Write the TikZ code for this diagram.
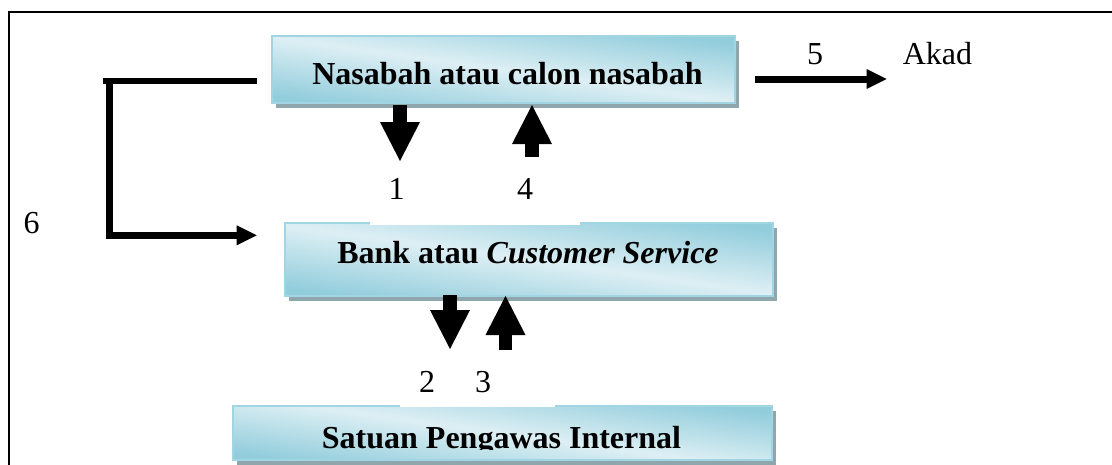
\documentclass[tikz,border=0pt]{standalone}
\usepackage{fontspec}
\setmainfont{Liberation Serif}
\usetikzlibrary{arrows.meta,shadows}
\definecolor{aquaD}{RGB}{146,205,220}
\definecolor{aquaL}{RGB}{221,239,244}
\definecolor{aquaB}{RGB}{162,213,227}
\definecolor{shadowc}{RGB}{143,166,173}
\begin{document}
\begin{tikzpicture}[x=1pt,y=-1pt,
  box/.style={draw=aquaB, line width=1.2pt, top color=aquaD, bottom color=aquaD,
    middle color=aquaL, shading angle=-8,
    drop shadow={shadow xshift=4pt, shadow yshift=-5pt, fill=shadowc, opacity=1},
    inner sep=0pt},
  boxtext/.style={font=\fontsize{32}{38}\selectfont\bfseries, anchor=base, inner sep=0pt},
  lbl/.style={font=\fontsize{32}{38}\selectfont, anchor=base, inner sep=0pt},
  blockarr/.style={line width=#1, -{Triangle[width=40pt,length=39pt,line width=0pt]}},
  linearr/.style={line width=#1, -{Triangle[width=20pt,length=20pt,line width=0pt]}},
  whitepad/.style={fill=white, draw=none, inner sep=0pt}
]
\useasboundingbox (0,0) rectangle (1112,464);
\clip (0,0) rectangle (1112,464);
% frame (only its top and left sides are in view)
\draw[line width=2.2pt] (8.7,480) -- (8.7,12) -- (1130,12);

% boxes
\node[box, minimum width=463pt, minimum height=67pt] (b1) at (503.5,69.5) {};
\node[box, minimum width=488pt, minimum height=73pt] (b2) at (529,259.5) {};
\node[box, minimum width=539pt, minimum height=54pt] (b3) at (502.5,433) {};

\node[boxtext] (t1) at (507.5,84) {Nasabah atau calon nasabah};
\node[boxtext] (t2) at (528,263) {Bank atau \textit{Customer Service}};
\begin{scope}
  \clip (b3.north west) rectangle (b3.east |- 0,449);
  \node[boxtext] (t3) at (501.5,448) {Satuan Pengawas Internal};
\end{scope}

% white label pads overlapping the box tops
\node[whitepad, minimum width=210pt, minimum height=58pt] (p1) at (475,195.5) {};
\node[whitepad, minimum width=155pt, minimum height=50pt] (p2) at (477.5,382) {};

% numbers
\node[lbl] (l1) at (396.7,199) {1};
\node[lbl] (l4) at (525,199) {4};
\node[lbl] (l2) at (427,392.5) {2};
\node[lbl] (l3) at (483,392.5) {3};
\node[lbl] (l6) at (31.7,233.5) {6};
\node[lbl] (l5) at (815,64) {5};
\node[lbl] (akad) at (937.5,64) {Akad};

% block arrows
\coordinate (a1s) at (400,105);   \coordinate (a1e) at (400,161);
\coordinate (a4s) at (532,157);   \coordinate (a4e) at (532,105);
\coordinate (a2s) at (450,295);   \coordinate (a2e) at (450,349);
\coordinate (a3s) at (505.5,350); \coordinate (a3e) at (505.5,296);
\draw[blockarr=14pt] (a1s) -- (a1e);
\draw[blockarr=13.5pt] (a4s) -- (a4e);
\draw[blockarr=13.5pt] (a2s) -- (a2e);
\draw[blockarr=13.5pt] (a3s) -- (a3e);

% arrow 5 to Akad
\coordinate (a5s) at (755,79); \coordinate (a5e) at (886.7,79);
\draw[linearr=7pt] (a5s) -- (a5e);

% arrow 6 loop
\coordinate (a6s) at (256.7,81); \coordinate (a6e) at (256.7,235.3);
\draw[linearr=6.5pt] (a6s) -- (103,81) -- (109.5,81) -- (109.5,235.3) -- (a6e);
\end{tikzpicture}
\end{document}
